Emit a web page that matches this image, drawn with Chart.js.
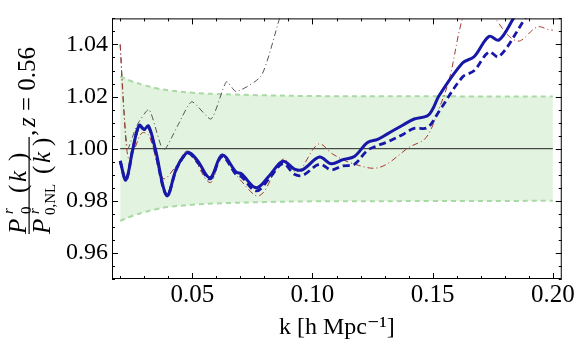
<!DOCTYPE html>
<html lang="en">
<head>
  <meta charset="UTF-8" />
  <title>P0 ratio, z = 0.56</title>
  <script src="https://cdn.jsdelivr.net/npm/chart.js"></script>
  <style>
    * { margin: 0; padding: 0; box-sizing: border-box; }
    body { background: white; }
    .chart-box { width: 576px; height: 342px; position: relative; }
  </style>
</head>
<body>
  <div class="chart-box">
    <canvas id="ratioChart"></canvas>
  </div>

  <script>
    // solid blue curve
    const kSolid = [0.0200, 0.0224, 0.0253, 0.0279, 0.0300, 0.0318, 0.0346, 0.0394, 0.0436, 0.0481,
                    0.0519, 0.0574, 0.0624, 0.0683, 0.0704, 0.0766, 0.0822, 0.0877, 0.0925, 0.0960,
                    0.1029, 0.1078, 0.1126, 0.1174, 0.1229, 0.1271, 0.1312, 0.1375, 0.1423, 0.1478,
                    0.1499, 0.1527, 0.1624, 0.1672, 0.1734, 0.1776, 0.1838, 0.1900, 0.2000];
    const solid = [0.9953, 0.9880, 1.0000, 1.0090, 1.0075, 1.0087, 1.0000, 0.9820, 0.9928, 0.9986,
                   0.9958, 0.9889, 0.9976, 0.9910, 0.9904, 0.9850, 0.9898, 0.9952, 0.9922, 0.9920,
                   0.9968, 0.9942, 0.9958, 0.9970, 1.0024, 1.0036, 1.0057, 1.0090, 1.0114, 1.0126,
                   1.0150, 1.0204, 1.0329, 1.0353, 1.0431, 1.0417, 1.0503, 1.0590, 1.0720];

    // dashed blue curve
    const kDashed = [0.0200, 0.0224, 0.0253, 0.0279, 0.0300, 0.0318, 0.0346, 0.0394, 0.0436, 0.0481,
                     0.0519, 0.0574, 0.0624, 0.0683, 0.0704, 0.0766, 0.0822, 0.0877, 0.0925, 0.0960,
                     0.1029, 0.1078, 0.1126, 0.1174, 0.1229, 0.1271, 0.1312, 0.1375, 0.1423, 0.1478,
                     0.1527, 0.1624, 0.1672, 0.1734, 0.1776, 0.1887, 0.2000];
    const dashed = [0.9953, 0.9880, 1.0000, 1.0088, 1.0073, 1.0085, 0.9990, 0.9820, 0.9925, 0.9982,
                    0.9952, 0.9884, 0.9970, 0.9900, 0.9893, 0.9838, 0.9888, 0.9943, 0.9902, 0.9898,
                    0.9940, 0.9919, 0.9934, 0.9940, 0.9994, 1.0012, 1.0026, 1.0054, 1.0078, 1.0081,
                    1.0144, 1.0275, 1.0299, 1.0371, 1.0353, 1.0503, 1.0650];

    // red dot-dashed curve
    const kRed = [0.0200, 0.0215, 0.0235, 0.0260, 0.0290, 0.0320, 0.0379, 0.0430, 0.0481, 0.0574,
                  0.0624, 0.0700, 0.0780, 0.0877, 0.0935, 0.1025, 0.1083, 0.1167, 0.1278, 0.1403,
                  0.1472, 0.1527, 0.1570, 0.1624, 0.1690, 0.1762, 0.1852, 0.1935, 0.1983, 0.2000];
    const red = [1.0400, 1.0150, 0.9960, 1.0000, 1.0060, 1.0050, 0.9886, 0.9930, 0.9990, 0.9870,
                 0.9975, 0.9880, 0.9820, 0.9960, 0.9910, 1.0018, 0.9980, 0.9943, 0.9928, 1.0006,
                 1.0042, 1.0155, 1.0270, 1.0500, 1.0650, 1.0500, 1.0413, 1.0467, 1.0457, 1.0455];

    // gray dot-dashed curve
    const kGray = [0.0200, 0.0230, 0.0270, 0.0320, 0.0380, 0.0440, 0.0498, 0.0578, 0.0642, 0.0683,
                   0.0787, 0.0863, 0.0950];
    const gray = [1.0400, 1.0000, 1.0090, 1.0150, 0.9994, 1.0090, 1.0180, 1.0114, 1.0257, 1.0219,
                  1.0280, 1.0500, 1.0750];

    // green error band
    const kBand = [0.020, 0.025, 0.030, 0.035, 0.040, 0.050, 0.060, 0.080, 0.100, 0.150, 0.200];
    const bandUpper = [1.0277, 1.0258, 1.0244, 1.0232, 1.0224, 1.0215, 1.0210, 1.0205, 1.0202, 1.0201, 1.0200];
    const bandLower = [0.9723, 0.9742, 0.9756, 0.9768, 0.9776, 0.9785, 0.9790, 0.9795, 0.9798, 0.9799, 0.9800];

    const kUnit = [0.02, 0.20];
    const unity = [1.0, 1.0];

    const xTickValues = [0.02, 0.03, 0.04, 0.05, 0.06, 0.07, 0.08, 0.09, 0.10, 0.11,
                         0.12, 0.13, 0.14, 0.15, 0.16, 0.17, 0.18, 0.19, 0.20];
    const xTickLabels = ['0.05', '0.10', '0.15', '0.20'];
    const yTickValues = [0.950, 0.955, 0.960, 0.965, 0.970, 0.975, 0.980, 0.985, 0.990, 0.995,
                         1.000, 1.005, 1.010, 1.015, 1.020, 1.025, 1.030, 1.035, 1.040, 1.045, 1.050];
    const yTickLabels = ['0.96', '0.98', '1.00', '1.02', '1.04'];

    const pts = (xs, ys) => xs.map((x, i) => ({ x: x, y: ys[i] }));
    const findLabel = (labels, v) => labels.find(l => Math.abs(parseFloat(l) - v) < 1e-6) || '';

    const serif = "'Liberation Serif', 'DejaVu Serif', serif";

    // frame with inward ticks on all four sides (Mathematica style)
    const frameTicks = {
      id: 'frameTicks',
      afterDatasetsDraw(chart) {
        const { ctx, chartArea: a, scales } = chart;
        ctx.save();
        ctx.strokeStyle = '#000';
        ctx.lineWidth = 1;
        ctx.strokeRect(a.left + 0.5, a.top + 0.5, a.right - a.left - 1, a.bottom - a.top - 1);
        ctx.beginPath();
        xTickValues.forEach(v => {
          const px = Math.round(scales.x.getPixelForValue(v)) + 0.5;
          const len = findLabel(xTickLabels, v) ? 6 : 3;
          ctx.moveTo(px, a.bottom); ctx.lineTo(px, a.bottom - len);
          ctx.moveTo(px, a.top); ctx.lineTo(px, a.top + len);
        });
        yTickValues.forEach(v => {
          const py = Math.round(scales.y.getPixelForValue(v)) + 0.5;
          const len = findLabel(yTickLabels, v) ? 6 : 3;
          ctx.moveTo(a.left, py); ctx.lineTo(a.left + len, py);
          ctx.moveTo(a.right, py); ctx.lineTo(a.right - len, py);
        });
        ctx.stroke();
        ctx.restore();
      }
    };

    // rotated y title: P^r_0(k) / P^r_{0,NL}(k), z = 0.56
    const yTitle = {
      id: 'yTitle',
      afterDraw(chart) {
        const ctx = chart.ctx;
        const H = 342;
        ctx.save();
        ctx.translate(0, H);
        ctx.rotate(-Math.PI / 2);
        ctx.fillStyle = '#000';
        ctx.textBaseline = 'alphabetic';
        ctx.textAlign = 'left';
        const put = (txt, u, v, font) => { ctx.font = font; ctx.fillText(txt, u, v); };
        const big = '25px ' + serif, bigIt = 'italic 25px ' + serif;
        const sm = '15px ' + serif, smIt = 'italic 15px ' + serif;
        // numerator
        put('P', 108, 26, bigIt);
        put('r', 128, 13, smIt);
        put('0', 128, 31, sm);
        put('(', 149, 26, big);
        put('k', 160, 26, bigIt);
        put(')', 181, 26, big);
        // fraction bar
        ctx.fillRect(108, 28.5, 97, 1.2);
        // denominator
        put('P', 108, 50, bigIt);
        put('r', 128, 39, smIt);
        put('0,NL', 127, 55, sm);
        put('(', 168, 50, big);
        put('k', 179, 50, bigIt);
        put(')', 196, 50, big);
        // redshift
        put(',', 206, 35, big);
        put('z', 215, 35, bigIt);
        put('= 0.56', 231, 35, big);
        ctx.restore();
      }
    };

    const ctx = document.getElementById('ratioChart').getContext('2d');
    new Chart(ctx, {
      type: 'line',
      data: {
        datasets: [
          { data: pts(kSolid, solid), borderColor: '#1818a8', borderWidth: 3, tension: 0.35 },
          { data: pts(kDashed, dashed), borderColor: '#1818a8', borderWidth: 2.8, borderDash: [7, 4], tension: 0.35 },
          { data: pts(kRed, red), borderColor: '#a83a30', borderWidth: 1, borderDash: [6, 3, 1, 3], tension: 0.35 },
          { data: pts(kGray, gray), borderColor: '#555555', borderWidth: 1, borderDash: [6, 3, 1, 3], tension: 0.2 },
          { data: pts(kUnit, unity), borderColor: '#222222', borderWidth: 1, tension: 0 },
          { data: pts(kBand, bandUpper), borderColor: '#a9d9a4', borderWidth: 2, borderDash: [5, 4], tension: 0.4 },
          { data: pts(kBand, bandLower), borderColor: '#a9d9a4', borderWidth: 2, borderDash: [5, 4], tension: 0.4,
            fill: '-1', backgroundColor: '#e2f3df' }
        ]
      },
      options: {
        responsive: true,
        maintainAspectRatio: false,
        animation: false,
        elements: { point: { radius: 0, hoverRadius: 0 } },
        layout: { padding: { left: 0, right: 13, top: 0, bottom: 0 } },
        plugins: { legend: { display: false }, tooltip: { enabled: false } },
        scales: {
          x: {
            type: 'linear',
            min: 0.0166,
            max: 0.2037,
            afterBuildTicks: s => { s.ticks = xTickValues.map(v => ({ value: v })); },
            afterFit: s => { s.height = 63; },
            grid: { display: false, drawTicks: false },
            border: { display: false },
            ticks: {
              autoSkip: false, maxRotation: 0, padding: 1, color: '#000',
              font: { family: serif, size: 25 },
              callback: v => findLabel(xTickLabels, v)
            },
            title: {
              display: true, text: 'k [h Mpc⁻¹]', color: '#000',
              font: { family: serif, size: 24 }, padding: { top: 0, bottom: 0 }
            }
          },
          y: {
            min: 0.95,
            max: 1.05,
            afterBuildTicks: s => { s.ticks = yTickValues.map(v => ({ value: v })); },
            afterFit: s => { s.width = 112; },
            grid: { display: false, drawTicks: false },
            border: { display: false },
            ticks: {
              autoSkip: false, padding: 4, color: '#000',
              font: { family: serif, size: 24 },
              callback: v => findLabel(yTickLabels, v)
            }
          }
        }
      },
      plugins: [frameTicks, yTitle]
    });
  </script>
</body>
</html>
